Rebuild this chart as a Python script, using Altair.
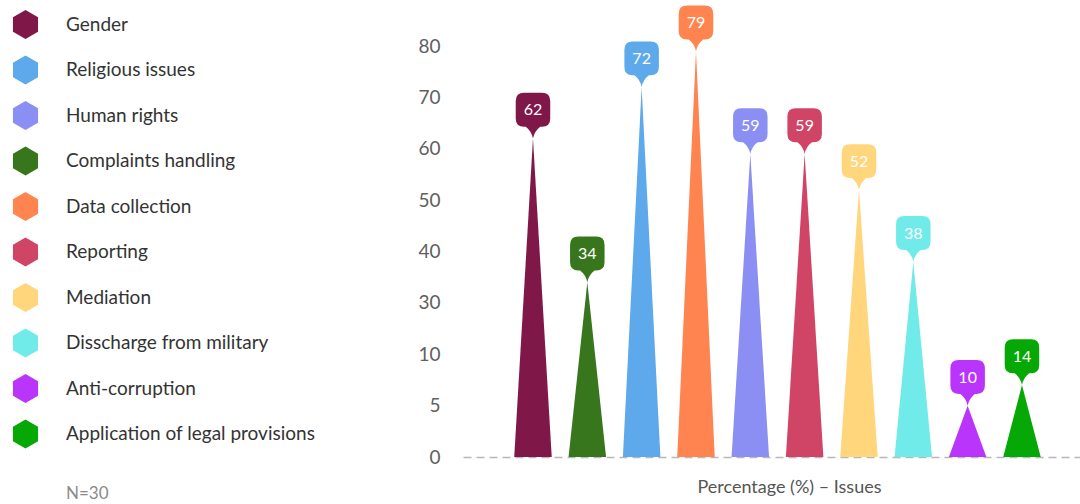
import altair as alt
import pandas as pd

# ---- data ----
issues = ["Gender", "Complaints handling", "Religious issues", "Data collection",
          "Human rights", "Reporting", "Mediation", "Disscharge from military",
          "Anti-corruption", "Application of legal provisions"]
values = [62, 34, 72, 79, 59, 59, 52, 38, 10, 14]

legend_order = ["Gender", "Religious issues", "Human rights", "Complaints handling",
                "Data collection", "Reporting", "Mediation", "Disscharge from military",
                "Anti-corruption", "Application of legal provisions"]
legend_colors = ["#7f1749", "#5ea9eb", "#8b8ff3", "#38761d", "#ff844f",
                 "#d04566", "#ffd67b", "#71ebea", "#b935fb", "#06a805"]

ytick_values = [0, 10, 20, 30, 40, 50, 60, 70, 80]
ytick_labels = ["0", "5", "10", "30", "40", "50", "60", "70", "80"]

x_title = "Percentage (%) – Issues"
note = "N=30"

FONT = "Lato"
HALF = 0.345  # half base width of each spike, in category units

# ---- tables built from the arrays ----
spike_rows = []
for i, (name, v) in enumerate(zip(issues, values)):
    spike_rows.append({"issue": name, "x": i - HALF, "y": 0})
    spike_rows.append({"issue": name, "x": i, "y": v})
    spike_rows.append({"issue": name, "x": i + HALF, "y": 0})
spikes = pd.DataFrame(spike_rows)

tops = pd.DataFrame({"issue": issues, "x": list(range(len(issues))), "y": values,
                     "label": [str(v) for v in values]})

label_expr = " : ".join(
    f"datum.value == {v} ? '{l}'" for v, l in zip(ytick_values, ytick_labels)
) + " : datum.label"

hexagon = "M0,-1 L0.866,-0.5 L0.866,0.5 L0,1 L-0.866,0.5 L-0.866,-0.5 Z"
pin = ("M0,0 Q-0.08,-0.42 -0.42,-0.68 L-0.52,-0.68 Q-1,-0.68 -1,-1.16 "
       "L-1,-2.17 Q-1,-2.65 -0.52,-2.65 L0.52,-2.65 Q1,-2.65 1,-2.17 "
       "L1,-1.16 Q1,-0.68 0.52,-0.68 L0.42,-0.68 Q0.08,-0.42 0,0 Z")

x_scale = alt.Scale(domain=[-1.288, 10.068], nice=False, zero=False)
y_scale = alt.Scale(domain=[0, 80], nice=False)
color_scale = alt.Scale(domain=legend_order, range=legend_colors)

x_axis = alt.Axis(labels=False, ticks=False, grid=False, domain=True,
                  domainColor="#b8b8b8", domainWidth=1.5, domainDash=[8, 5],
                  title=x_title, titleFont=FONT, titleFontSize=18,
                  titleFontWeight="normal", titleColor="#555555",
                  titleX=326, titleY=30, titleAlign="center", titleBaseline="middle")
y_axis = alt.Axis(values=ytick_values, labelExpr=label_expr, ticks=False,
                  domain=False, grid=False, title=None, labelFont=FONT,
                  labelFontSize=19, labelColor="#606060", labelPadding=23)

legend = alt.Legend(orient="none", legendX=-452, legendY=-36, title=None,
                    symbolType=hexagon, symbolSize=841, symbolStrokeWidth=0,
                    symbolOpacity=1, labelFont=FONT, labelFontSize=19,
                    labelColor="#333333", labelOffset=26, rowPadding=16.5,
                    padding=0, labelLimit=400)

area = alt.Chart(spikes).mark_area(opacity=1, interpolate="linear").encode(
    x=alt.X("x:Q", scale=x_scale, axis=x_axis),
    y=alt.Y("y:Q", scale=y_scale, axis=y_axis, stack=None),
    color=alt.Color("issue:N", scale=color_scale, legend=legend),
    detail="issue:N",
)

pins = alt.Chart(tops).mark_point(shape=pin, size=1190, filled=True, opacity=1,
                                  strokeWidth=0).encode(
    x=alt.X("x:Q", scale=x_scale, axis=x_axis),
    y=alt.Y("y:Q", scale=y_scale, axis=y_axis),
    color=alt.Color("issue:N", scale=color_scale, legend=legend),
)

texts = alt.Chart(tops).mark_text(dy=-28, color="white", font=FONT, fontSize=16,
                                  baseline="middle", align="center").encode(
    x=alt.X("x:Q", scale=x_scale, axis=x_axis),
    y=alt.Y("y:Q", scale=y_scale, axis=y_axis),
    text="label:N",
)

note_df = pd.DataFrame({"t": [note]})
note_mark = alt.Chart(note_df).mark_text(align="left", baseline="middle", font=FONT,
                                         fontSize=17, color="#8a8a8a").encode(
    x=alt.value(-397), y=alt.value(448), text="t:N")

chart = alt.layer(area, pins, texts, note_mark).properties(
    width=617, height=411,
    autosize=alt.AutoSizeParams(type="none"),
    padding={"left": 463, "top": 46, "right": 0, "bottom": 47},
).configure(
    background="white",
    view=alt.ViewConfig(stroke=None),
    axis=alt.AxisConfig(grid=False),
)

chart.save("out.html", embed_options={"renderer": "svg", "actions": False})
